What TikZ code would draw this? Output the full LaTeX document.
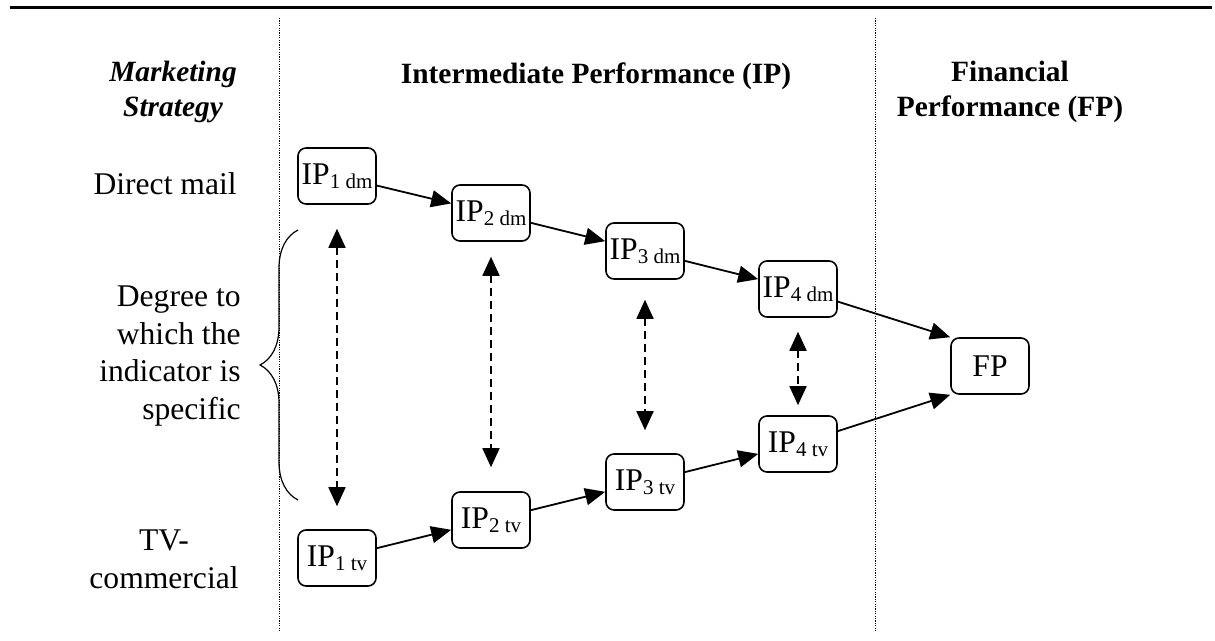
\documentclass[tikz,border=0pt]{standalone}
\usepackage{fontspec}
\setmainfont{Liberation Serif}
\usetikzlibrary{arrows.meta,decorations.pathreplacing}

\newcommand{\ip}[2]{IP\raisebox{-2pt}{\fontsize{10.5}{10.5}\selectfont #1 #2}}

\begin{document}
\begin{tikzpicture}
  [x=0.5pt,y=-0.5pt,
   every node/.style={inner sep=0pt,font=\fontsize{15.8}{18.9}\selectfont},
   head/.style={font=\fontsize{14.7}{17.2}\selectfont\bfseries,align=center},
   ipbox/.style={draw,rounded corners=4pt,line width=0.8pt,minimum width=39pt,minimum height=28pt}]

  \tikzstyle{link}    = [line width=0.9pt,-{Triangle[length=10pt,width=8.5pt]}]
  \tikzstyle{twoway}  = [line width=0.9pt,dash pattern=on 4pt off 2.5pt,
                         {Triangle[length=9.5pt,width=8.5pt]}-{Triangle[length=9.5pt,width=8.5pt]}]
  \tikzstyle{divider} = [line width=0.5pt,dash pattern=on 0.6pt off 0.6pt]

  \useasboundingbox (0,0) rectangle (1215,641);

  % rules and column dividers
  \draw[line width=1.5pt] (10,7.5) -- (1212,7.5);
  \draw[divider] (279,18) -- (279,632);
  \draw[divider] (875,18) -- (875,632);

  % column heads
  \node[head,font=\fontsize{14.7}{17.2}\selectfont\bfseries\itshape] (strat) at (173,92) {Marketing\\Strategy};
  \node[head] (iphead) at (596,76) {Intermediate Performance (IP)};
  \node[head] (fphead) at (1010,92) {Financial\\Performance (FP)};

  % row labels
  \node[anchor=east] (dmail) at (237,184) {Direct mail};
  \node[anchor=east,align=right] (degree) at (241,356) {Degree to\\which the\\indicator is\\specific};
  \node[align=center] (tvcom) at (164,559) {TV-\\commercial};

  \coordinate (bracetop) at (298,230);
  \coordinate (bracebot) at (298,500);
  \draw[line width=0.6pt,decorate,decoration={brace,amplitude=19pt}] (bracebot) -- (bracetop);

  % boxes
  \node[ipbox] (ip1dm) at (337,176) {\ip{1}{dm}};
  \node[ipbox] (ip2dm) at (491,213) {\ip{2}{dm}};
  \node[ipbox] (ip3dm) at (645,251) {\ip{3}{dm}};
  \node[ipbox] (ip4dm) at (798,289) {\ip{4}{dm}};

  \node[ipbox] (ip1tv) at (337,558) {\ip{1}{tv}};
  \node[ipbox] (ip2tv) at (491,520) {\ip{2}{tv}};
  \node[ipbox] (ip3tv) at (645,482) {\ip{3}{tv}};
  \node[ipbox] (ip4tv) at (798,444) {\ip{4}{tv}};

  \node[ipbox] (fp) at (990,366) {FP};

  \path[link]
        (ip1dm) edge (ip2dm)
        (ip2dm) edge (ip3dm)
        (ip3dm) edge (ip4dm)
        (ip4dm) edge (fp.north west)
        (ip1tv) edge (ip2tv)
        (ip2tv) edge (ip3tv)
        (ip3tv) edge (ip4tv)
        (ip4tv) edge (fp.south west);

  \path[twoway]
        (ip1dm) edge [shorten <=12pt,shorten >=11.5pt] (ip1tv)
        (ip2dm) edge [shorten <=7.5pt,shorten >=12pt]  (ip2tv)
        (ip3dm) edge [shorten <=10pt,shorten >=11.5pt] (ip3tv)
        (ip4dm) edge [shorten <=7pt,shorten >=5pt]     (ip4tv);
\end{tikzpicture}
\end{document}
